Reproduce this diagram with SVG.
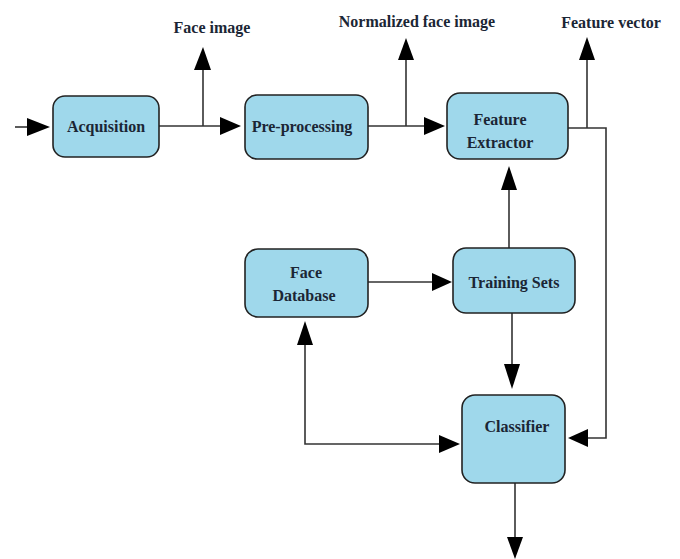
<svg xmlns="http://www.w3.org/2000/svg" width="680" height="559" viewBox="0 0 680 559">
<style>
.box{fill:#9fd8eb;stroke:#222;stroke-width:1.6}
.t{font-family:'Times New Roman','Liberation Serif','DejaVu Serif',serif;font-weight:bold;font-size:16px;fill:#1b2635;text-anchor:middle}
.ln{fill:none;stroke:#333;stroke-width:1.6}
.ah{fill:#000}
</style>
<rect width="680" height="559" fill="#fff"/>
<g id="connectors">
  <line class="ln" x1="15" y1="127" x2="30" y2="127"/>
  <polygon class="ah" points="27,118 50,127 27,136"/>
  <line class="ln" x1="159" y1="126" x2="222" y2="126"/>
  <polygon class="ah" points="220,117 241,126 220,135"/>
  <line class="ln" x1="203" y1="126" x2="203" y2="66"/>
  <polygon class="ah" points="194,70 203,47 211,70"/>
  <line class="ln" x1="368" y1="126" x2="427" y2="126"/>
  <polygon class="ah" points="424,117 445,126 424,135"/>
  <line class="ln" x1="406" y1="126" x2="406" y2="56"/>
  <polygon class="ah" points="398,60 406,38 414,60"/>
  <polyline class="ln" points="568,128 606,128 606,438 585,438"/>
  <line class="ln" x1="587" y1="128" x2="587" y2="56"/>
  <polygon class="ah" points="579,60 587,37 595,60"/>
  <polygon class="ah" points="588,429 568,438 588,447"/>
  <line class="ln" x1="368" y1="282" x2="435" y2="282"/>
  <polygon class="ah" points="432,273 452,282 432,291"/>
  <line class="ln" x1="509" y1="248" x2="509" y2="185"/>
  <polygon class="ah" points="501,190 509,166 517,190"/>
  <line class="ln" x1="512" y1="313" x2="512" y2="367"/>
  <polygon class="ah" points="504,364 512,389 520,364"/>
  <polyline class="ln" points="305,342 305,444 442,444"/>
  <polygon class="ah" points="297,345 305,321 313,345"/>
  <polygon class="ah" points="439,435 460,444 439,453"/>
  <line class="ln" x1="515" y1="483" x2="515" y2="540"/>
  <polygon class="ah" points="507,537 515,559 523,537"/>
</g>
<g id="label-face-image"><text class="t" x="212" y="33">Face image</text></g>
<g id="label-normalized"><text class="t" x="417" y="27">Normalized face image</text></g>
<g id="label-feature-vector"><text class="t" x="611" y="28">Feature vector</text></g>
<g id="acquisition">
  <rect class="box" x="53" y="96" width="106" height="61" rx="12"/>
  <text class="t" x="106" y="132">Acquisition</text>
</g>
<g id="preprocessing">
  <rect class="box" x="245" y="95" width="123" height="64" rx="12"/>
  <text class="t" x="302" y="132">Pre-processing</text>
</g>
<g id="feature-extractor">
  <rect class="box" x="447" y="93" width="121" height="66" rx="13"/>
  <text class="t" x="500" y="125">Feature</text>
  <text class="t" x="500" y="148">Extractor</text>
</g>
<g id="face-database">
  <rect class="box" x="245" y="249" width="123" height="68" rx="13"/>
  <text class="t" x="306" y="278">Face</text>
  <text class="t" x="304" y="301">Database</text>
</g>
<g id="training-sets">
  <rect class="box" x="453" y="248" width="122" height="65" rx="13"/>
  <text class="t" x="514" y="288">Training Sets</text>
</g>
<g id="classifier">
  <rect class="box" x="462" y="395" width="103" height="88" rx="13"/>
  <text class="t" x="517" y="432">Classifier</text>
</g>
</svg>
